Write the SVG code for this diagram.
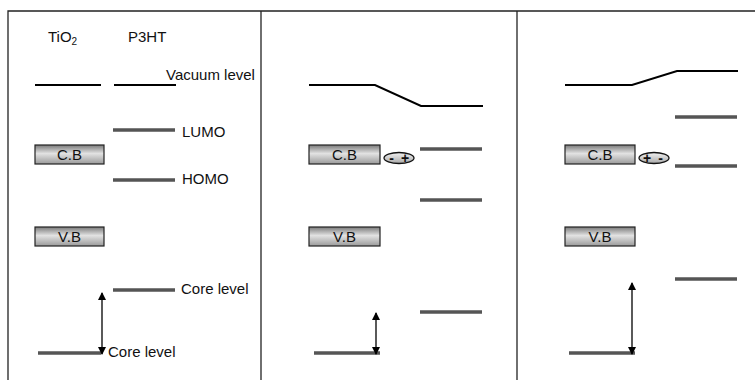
<svg xmlns="http://www.w3.org/2000/svg" width="755" height="380" viewBox="0 0 755 380">
  <defs>
    <linearGradient id="band" x1="0" y1="0" x2="0" y2="1">
      <stop offset="0" stop-color="#7a7a7a"/>
      <stop offset="0.45" stop-color="#e2e2e2"/>
      <stop offset="1" stop-color="#9a9a9a"/>
    </linearGradient>
    <linearGradient id="pair" x1="0" y1="0" x2="0" y2="1">
      <stop offset="0" stop-color="#f2f2f2"/>
      <stop offset="1" stop-color="#a8a8a8"/>
    </linearGradient>
    <marker id="tip" viewBox="0 0 8 10" refX="7" refY="5" markerWidth="8" markerHeight="10" markerUnits="userSpaceOnUse" orient="auto-start-reverse">
      <path d="M0,1 L8,5 L0,9 Z" fill="#000"/>
    </marker>
    <style>
      .frame { stroke: #222; stroke-width: 1.3; fill: none; }
      .vac { stroke: #000; stroke-width: 2; fill: none; }
      .lvl { stroke: #555; stroke-width: 3.5; }
      .box { fill: url(#band); stroke: #222; stroke-width: 1.2; }
      .pairs { fill: url(#pair); stroke: #111; stroke-width: 1.3; }
      .arr { stroke: #000; stroke-width: 1.3; fill: none; }
      text { font-family: "Liberation Sans", Arial, sans-serif; font-size: 15px; fill: #111; }
      .mid { text-anchor: middle; }
      .sign { font-size: 14px; font-weight: bold; text-anchor: middle; }
    </style>
  </defs>

  <!-- frame and panel dividers -->
  <g id="frame">
    <path class="frame" d="M8,380 V11 H755"/>
    <line class="frame" x1="261" y1="11" x2="261" y2="380"/>
    <line class="frame" x1="517" y1="11" x2="517" y2="380"/>
  </g>

  <!-- panel 1: separated materials -->
  <g id="panel1">
    <text x="48" y="42">TiO<tspan font-size="10" dy="3">2</tspan></text>
    <text x="128" y="42">P3HT</text>
    <g id="vacuum1">
      <line class="vac" x1="35" y1="85" x2="101" y2="85"/>
      <line class="vac" x1="114" y1="85" x2="176" y2="85"/>
      <text x="166" y="80">Vacuum level</text>
    </g>
    <g id="lumo1">
      <line class="lvl" x1="113" y1="130" x2="175" y2="130"/>
      <text x="182" y="137">LUMO</text>
    </g>
    <g id="cb1">
      <rect class="box" x="35" y="145" width="69" height="19"/>
      <text class="mid" x="69.5" y="160">C.B</text>
    </g>
    <g id="homo1">
      <line class="lvl" x1="113" y1="180" x2="175" y2="180"/>
      <text x="182" y="184">HOMO</text>
    </g>
    <g id="vb1">
      <rect class="box" x="35" y="227" width="69" height="19"/>
      <text class="mid" x="69.5" y="242">V.B</text>
    </g>
    <g id="core1">
      <line class="lvl" x1="113" y1="290" x2="175" y2="290"/>
      <text x="181" y="294">Core level</text>
      <line class="lvl" x1="38" y1="353" x2="101" y2="353"/>
      <text x="108" y="357">Core level</text>
    </g>
  </g>

  <!-- panel 2: contact, vacuum level shifted down -->
  <g id="panel2">
    <g id="vacuum2"><polyline class="vac" points="309,85 375,85 421,106 483,106"/></g>
    <g id="cb2">
      <rect class="box" x="309" y="145" width="71" height="19"/>
      <text class="mid" x="344.5" y="160">C.B</text>
    </g>
    <g id="dipole2">
      <ellipse class="pairs" cx="399" cy="158" rx="15" ry="5.5"/>
      <text class="sign" x="391.5" y="163">-</text>
      <text class="sign" x="405" y="163">+</text>
    </g>
    <line id="lumo2" class="lvl" x1="420" y1="149" x2="482" y2="149"/>
    <line id="homo2" class="lvl" x1="420" y1="200" x2="482" y2="200"/>
    <g id="vb2">
      <rect class="box" x="309" y="227" width="71" height="19"/>
      <text class="mid" x="344.5" y="242">V.B</text>
    </g>
    <line id="core2b" class="lvl" x1="420" y1="312" x2="482" y2="312"/>
    <line id="core2a" class="lvl" x1="314" y1="353" x2="380" y2="353"/>
  </g>

  <!-- panel 3: contact, vacuum level shifted up -->
  <g id="panel3">
    <g id="vacuum3"><polyline class="vac" points="565,85 632,85 677,71 738,71"/></g>
    <line id="lumo3" class="lvl" x1="675" y1="117" x2="737" y2="117"/>
    <g id="cb3">
      <rect class="box" x="565" y="145" width="70" height="19"/>
      <text class="mid" x="600" y="160">C.B</text>
    </g>
    <g id="dipole3">
      <ellipse class="pairs" cx="654" cy="158" rx="15" ry="5.5"/>
      <text class="sign" x="647" y="163">+</text>
      <text class="sign" x="660.5" y="163">-</text>
    </g>
    <line id="homo3" class="lvl" x1="675" y1="166" x2="737" y2="166"/>
    <g id="vb3">
      <rect class="box" x="565" y="227" width="70" height="19"/>
      <text class="mid" x="600" y="242">V.B</text>
    </g>
    <line id="core3b" class="lvl" x1="675" y1="279" x2="737" y2="279"/>
    <line id="core3a" class="lvl" x1="569" y1="353" x2="635" y2="353"/>
  </g>

  <!-- binding-energy arrows -->
  <g id="connectors">
    <line class="arr" x1="102" y1="293" x2="102" y2="354" marker-start="url(#tip)" marker-end="url(#tip)"/>
    <line class="arr" x1="376" y1="313" x2="376" y2="354" marker-start="url(#tip)" marker-end="url(#tip)"/>
    <line class="arr" x1="632" y1="283" x2="632" y2="354" marker-start="url(#tip)" marker-end="url(#tip)"/>
  </g>
</svg>
